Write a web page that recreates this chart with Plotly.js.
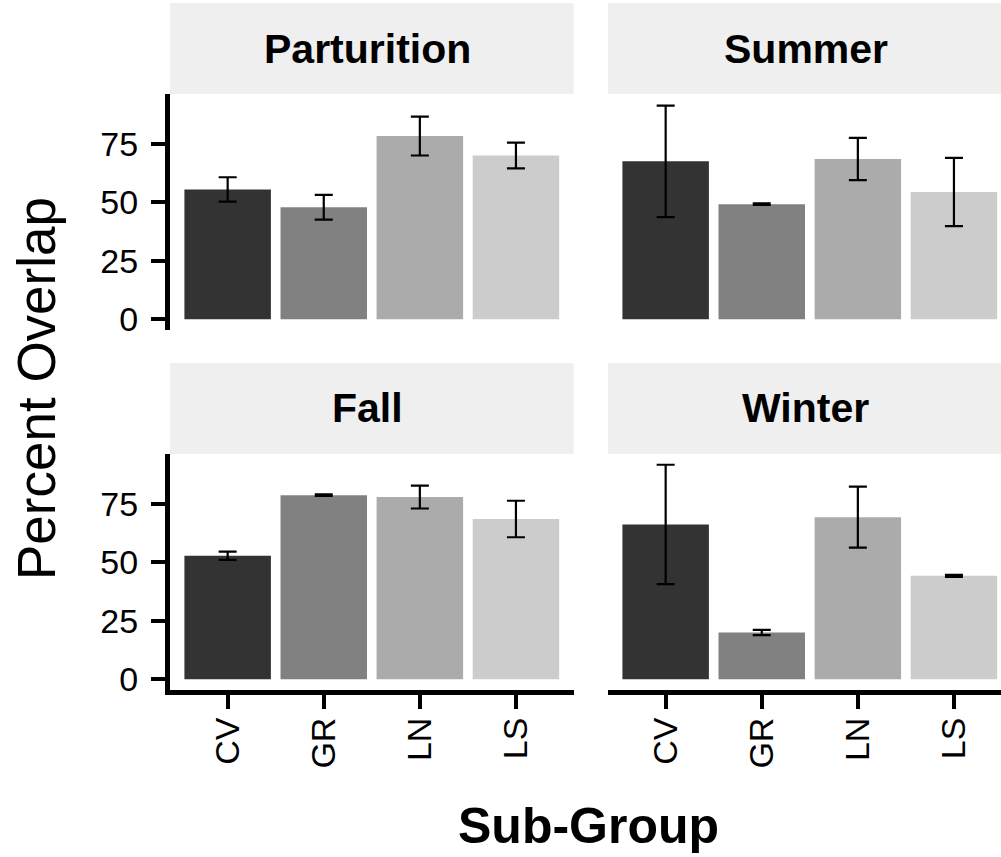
<!DOCTYPE html>
<html>
<head>
<meta charset="utf-8">
<script src="https://cdn.plot.ly/plotly-3.0.1.min.js"></script>
<style>html,body{margin:0;padding:0;background:#fff;}#chart{width:1001px;height:857px;}</style>
</head>
<body>
<div id="chart"></div>
<script>
// ---- data ----
const categories = ['CV', 'GR', 'LN', 'LS'];
const facetNames = ['Parturition', 'Summer', 'Fall', 'Winter'];
const parturitionMean = [55.5, 47.9, 78.3, 70.0];
const parturitionErr  = [5.2, 5.3, 8.3, 5.5];
const summerMean = [67.5, 49.2, 68.5, 54.4];
const summerErr  = [23.8, 0.3, 9.0, 14.6];
const fallMean = [52.8, 78.7, 77.9, 68.5];
const fallErr  = [1.8, 0.3, 4.9, 7.8];
const winterMean = [66.2, 20.0, 69.3, 44.2];
const winterErr  = [25.5, 1.1, 13.0, 0.4];
const yTickVals = [0, 25, 50, 75];
const yTickText = ['0', '25', '50', '75'];
const barColors = ['#333333', '#818181', '#ABABAB', '#CCCCCC'];

const means = [parturitionMean, summerMean, fallMean, winterMean];
const errs = [parturitionErr, summerErr, fallErr, winterErr];

// ---- layout geometry (px) ----
const W = 1001, H = 857;
const FONT = '"Liberation Sans", Arial, Helvetica, sans-serif';
const leftX = [170, 573.6], rightX = [608, 1001];
const rightFull = 608 + (573.6 - 170);
const topY = [94, 330], botY = [454, 690];
const topStrip = [3, 94], botStrip = [363, 454];
const pxX = v => v / W;
const pxY = v => 1 - v / H;

let maxUpper = 0;
means.forEach((m, i) => m.forEach((v, j) => { maxUpper = Math.max(maxUpper, v + errs[i][j]); }));
const yRange = [-0.05 * maxUpper, maxUpper * 1.05];
const unitPx = (leftX[1] - leftX[0]) / 4.2;
const rightRange = [-0.6, -0.6 + (rightX[1] - rightX[0]) / unitPx];

const axisSuffix = ['', '2', '3', '4'];
const traces = means.map((m, i) => ({
  type: 'bar',
  x: categories,
  y: m,
  width: 0.9,
  marker: { color: barColors, line: { width: 0 } },
  error_y: { type: 'data', array: errs[i], visible: true, color: '#000', thickness: 2.2, width: 9 },
  xaxis: 'x' + axisSuffix[i],
  yaxis: 'y' + axisSuffix[i],
  showlegend: false,
  hoverinfo: 'skip'
}));

const tickFont = { family: FONT, size: 34, color: '#000' };

function xAxis(dom, range, bottom, anchor) {
  return {
    domain: [pxX(dom[0]), pxX(dom[1])],
    anchor: anchor,
    type: 'category',
    categoryorder: 'array',
    categoryarray: categories,
    range: range,
    showgrid: false,
    zeroline: false,
    showline: bottom,
    linecolor: '#000',
    linewidth: 5,
    ticks: bottom ? 'outside' : '',
    ticklen: 14,
    tickwidth: 4,
    tickcolor: '#000',
    showticklabels: bottom,
    tickangle: -90,
    tickfont: tickFont,
    ticklabelstandoff: -5,
    fixedrange: true
  };
}
function yAxis(dom, left, anchor) {
  return {
    domain: [pxY(dom[1]), pxY(dom[0])],
    anchor: anchor,
    range: yRange,
    showgrid: false,
    zeroline: false,
    showline: left,
    linecolor: '#000',
    linewidth: 5,
    ticks: left ? 'outside' : '',
    ticklen: 14,
    tickwidth: 4,
    tickcolor: '#000',
    tickvals: yTickVals,
    ticktext: yTickText,
    showticklabels: left,
    tickfont: tickFont,
    ticklabelstandoff: 6,
    fixedrange: true
  };
}

const shapes = [];
const annotations = [];
const stripDefs = [
  { x: leftX, full: leftX[1], y: topStrip, name: facetNames[0] },
  { x: rightX, full: rightFull, y: topStrip, name: facetNames[1] },
  { x: leftX, full: leftX[1], y: botStrip, name: facetNames[2] },
  { x: rightX, full: rightFull, y: botStrip, name: facetNames[3] }
];
stripDefs.forEach(s => {
  shapes.push({
    type: 'rect', xref: 'paper', yref: 'paper',
    x0: pxX(s.x[0]), x1: pxX(s.x[1]),
    y0: pxY(s.y[1]), y1: pxY(s.y[0]),
    fillcolor: '#EFEFEF', line: { width: 0 }, layer: 'below'
  });
  annotations.push({
    xref: 'paper', yref: 'paper',
    x: pxX((s.x[0] + s.full) / 2 - 4), y: pxY((s.y[0] + s.y[1]) / 2),
    xanchor: 'center', yanchor: 'middle', showarrow: false,
    text: '<b>' + s.name + '</b>',
    font: { family: FONT, size: 41, color: '#000' }
  });
});
annotations.push({
  xref: 'paper', yref: 'paper', x: pxX(588), y: pxY(826),
  xanchor: 'center', yanchor: 'middle', showarrow: false,
  text: '<b>Sub-Group</b>', font: { family: FONT, size: 50, color: '#000' }
});
annotations.push({
  xref: 'paper', yref: 'paper', x: pxX(36), y: pxY(389),
  xanchor: 'center', yanchor: 'middle', showarrow: false, textangle: -90,
  text: 'Percent Overlap', font: { family: FONT, size: 53, color: '#000' }
});

const layout = {
  width: W, height: H,
  margin: { l: 0, r: 0, t: 0, b: 0, pad: 0 },
  paper_bgcolor: '#fff', plot_bgcolor: 'rgba(0,0,0,0)',
  hovermode: false,
  showlegend: false,
  xaxis: xAxis(leftX, [-0.6, 3.6], false, 'y'),
  yaxis: yAxis(topY, true, 'x'),
  xaxis2: xAxis(rightX, rightRange, false, 'y2'),
  yaxis2: yAxis(topY, false, 'x2'),
  xaxis3: xAxis(leftX, [-0.6, 3.6], true, 'y3'),
  yaxis3: yAxis(botY, true, 'x3'),
  xaxis4: xAxis(rightX, rightRange, true, 'y4'),
  yaxis4: yAxis(botY, false, 'x4'),
  shapes: shapes,
  annotations: annotations
};

Plotly.newPlot('chart', traces, layout, { displayModeBar: false, staticPlot: true });
</script>
</body>
</html>
